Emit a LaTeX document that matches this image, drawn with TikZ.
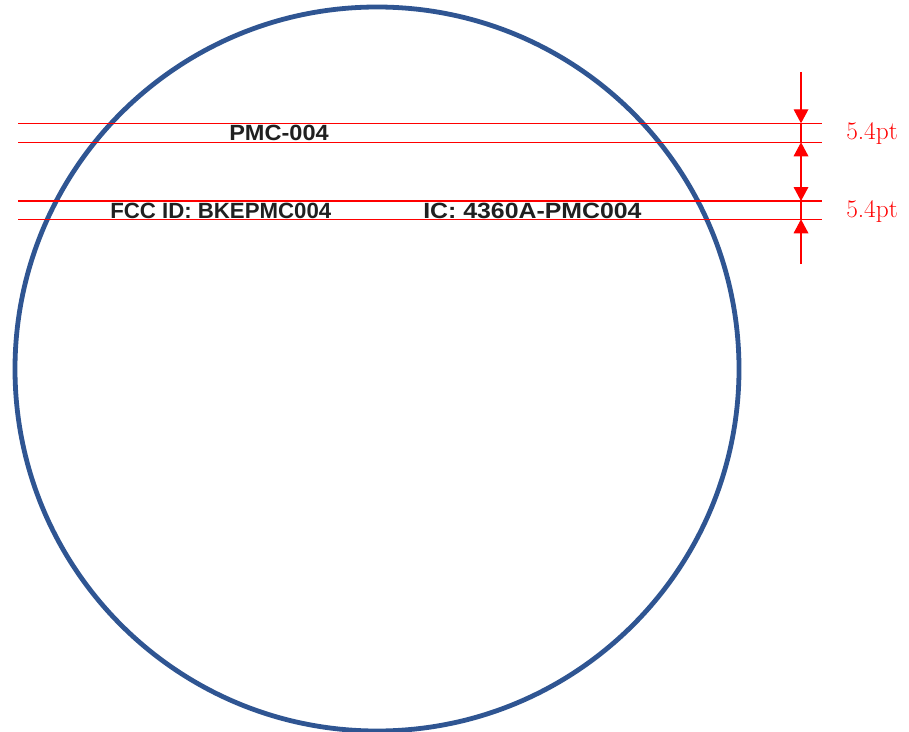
\documentclass[tikz,border=0pt]{standalone}
\usepackage{fontspec}
\setsansfont{Liberation Sans}
\usetikzlibrary{arrows.meta}
\definecolor{ringblue}{HTML}{2F5592}
\definecolor{dimred}{HTML}{FF0000}
\definecolor{labelgray}{HTML}{202020}
\tikzset{
  ring/.style={draw=ringblue, line width=3.6pt},
  guide/.style={draw=dimred, line width=0.9pt},
  dimarrow/.style={draw=dimred, line width=0.9pt, -{Triangle[length=10.5pt,width=11pt]}},
  dimboth/.style={draw=dimred, line width=0.9pt, {Triangle[length=10.5pt,width=11pt]}-{Triangle[length=10.5pt,width=11pt]}},
  dimlabel/.style={text=dimred, font=\fontsize{19}{22}\selectfont, anchor=west, inner sep=0pt},
  plate/.style={text=labelgray, font=\sffamily\bfseries\fontsize{16.5}{19}\selectfont, anchor=base west, inner sep=0pt}
}
\begin{document}
\begin{tikzpicture}[x=0.75pt,y=-0.75pt]
\useasboundingbox (0,0) rectangle (909,731);
\fill[white] (0,0) rectangle (909,731);
% ring
\draw[ring] (377,369) circle [radius=271.5pt];
% plate texts
\node[plate] (pmc) at (229,141) {\scalebox{1.07}[1]{PMC-004}};
\node[plate] (fcc) at (110,218.5) {\scalebox{1.01}[1]{FCC ID: BKEPMC004}};
\node[plate] (ic) at (423,218) {\scalebox{1.13}[1]{IC: 4360A-PMC004}};
% guide lines
\coordinate (l1a) at (18,123.3); \coordinate (l1b) at (822,123.3);
\coordinate (l2a) at (18,142.3); \coordinate (l2b) at (822,142.3);
\coordinate (l3a) at (18,201);   \coordinate (l3b) at (822,201);
\coordinate (l4a) at (18,219.3); \coordinate (l4b) at (822,219.3);
\draw[guide] (l1a) -- (l1b);
\draw[guide] (l2a) -- (l2b);
\draw[guide] (l3a) -- (l3b);
\draw[guide] (l4a) -- (l4b);
% dimension arrows
\coordinate (t0) at (801,72);
\coordinate (t1) at (801,123.3);
\coordinate (m0) at (801,142.3);
\coordinate (m1) at (801,201);
\coordinate (b1) at (801,219.3);
\coordinate (b0) at (801,264);
\draw[dimarrow] (t0) -- (t1);
\draw[dimboth] (m0) -- (m1);
\draw[dimarrow] (b0) -- (b1);
\draw[guide] (t1) -- (m0);
\draw[guide] (m1) -- (b1);
% labels
\node[dimlabel] (d1) at (846,133) {5.4pt};
\node[dimlabel] (d2) at (846,211.5) {5.4pt};
\end{tikzpicture}
\end{document}
